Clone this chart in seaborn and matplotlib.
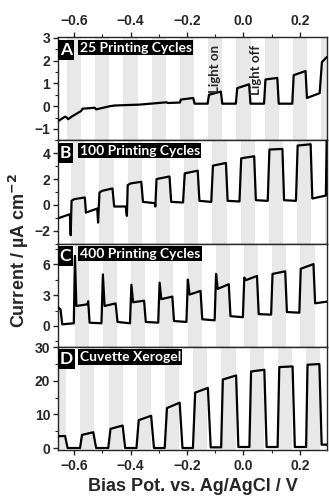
import matplotlib
matplotlib.use("Agg")
import matplotlib.pyplot as plt
from matplotlib.ticker import MultipleLocator
import seaborn as sns

# ---- data: potential (V) / current (uA cm-2) ----
pot_A = [-0.655, -0.632, -0.626, -0.621, -0.609, -0.575, -0.570, -0.527, -0.522, -0.473,
         -0.456, -0.367, -0.273, -0.268, -0.225, -0.222, -0.178, -0.173, -0.127, -0.122,
         -0.080, -0.075, -0.027, -0.022, 0.020, 0.025, 0.073, 0.078, 0.120, 0.125,
         0.173, 0.178, 0.220, 0.225, 0.270, 0.278, 0.295]
cur_A = [-0.64, -0.46, -0.50, -0.57, -0.46, -0.21, -0.11, -0.07, -0.14, 0.00,
         0.03, 0.07, 0.17, 0.14, 0.16, 0.29, 0.36, 0.11, 0.11, 0.50,
         0.64, 0.11, 0.11, 0.79, 0.96, 0.11, 0.11, 1.17, 1.24, 0.11,
         0.11, 1.36, 1.54, 0.36, 0.57, 1.93, 2.15]

pot_B = [-0.656, -0.615, -0.612, -0.609, -0.600, -0.562, -0.558, -0.518, -0.515, -0.510,
         -0.500, -0.464, -0.458, -0.417, -0.413, -0.410, -0.400, -0.362, -0.356, -0.314,
         -0.312, -0.308, -0.262, -0.256, -0.214, -0.208, -0.162, -0.156, -0.114, -0.108,
         -0.062, -0.056, -0.014, -0.008, 0.038, 0.044, 0.086, 0.092, 0.138, 0.144,
         0.186, 0.192, 0.238, 0.244, 0.292, 0.295]
cur_B = [-1.04, -0.73, -2.36, 0.31, 0.44, 0.57, -0.60, -0.29, -1.38, 0.96,
         1.09, 1.27, -0.13, -0.13, -0.86, 1.53, 1.66, 1.79, 0.23, 0.13,
         -0.13, 2.00, 2.20, 0.23, 0.18, 2.44, 2.65, 0.31, 0.23, 3.04,
         3.25, 0.31, 0.26, 3.61, 3.77, 0.36, 0.31, 4.29, 4.34, 0.36,
         0.31, 4.60, 4.70, 0.49, 0.72, 5.00]

pot_C = [-0.656, -0.648, -0.642, -0.601, -0.597, -0.592, -0.553, -0.550, -0.545, -0.503,
         -0.498, -0.492, -0.453, -0.446, -0.402, -0.397, -0.391, -0.352, -0.346, -0.302,
         -0.297, -0.291, -0.252, -0.246, -0.202, -0.197, -0.191, -0.152, -0.146, -0.102,
         -0.097, -0.091, -0.052, -0.046, -0.002, 0.003, 0.009, 0.048, 0.054, 0.098,
         0.103, 0.148, 0.154, 0.198, 0.203, 0.248, 0.254, 0.295]
cur_C = [1.80, 1.60, 0.16, 0.26, 6.80, 1.94, 2.10, 2.40, 0.32, 0.26,
         5.00, 1.94, 2.19, 0.39, 0.26, 4.00, 2.30, 2.45, 0.39, 0.32,
         4.20, 2.60, 2.85, 0.48, 0.39, 4.50, 3.05, 3.40, 0.65, 0.55,
         5.05, 3.60, 4.05, 0.95, 0.85, 4.70, 4.45, 4.85, 1.15, 1.10,
         5.05, 5.30, 1.35, 1.29, 5.55, 6.00, 2.20, 2.36]

pot_D = [-0.656, -0.632, -0.623, -0.579, -0.572, -0.532, -0.522, -0.479, -0.471, -0.428,
         -0.419, -0.379, -0.371, -0.327, -0.317, -0.279, -0.271, -0.226, -0.216, -0.179,
         -0.171, -0.126, -0.116, -0.079, -0.073, -0.026, -0.018, 0.021, 0.027, 0.074,
         0.082, 0.121, 0.127, 0.174, 0.182, 0.222, 0.227, 0.269, 0.277, 0.295]
cur_D = [3.5, 3.6, 0.0, 0.0, 3.9, 4.7, 0.0, 0.0, 5.7, 6.7,
         0.0, 0.0, 8.3, 9.6, 0.0, 0.0, 11.9, 13.5, 0.0, 0.0,
         16.5, 17.9, 0.2, 0.2, 20.4, 21.6, 0.3, 0.3, 22.8, 23.3,
         0.3, 0.3, 24.1, 24.3, 0.3, 0.3, 24.8, 25.0, 1.0, 1.0]

# light-on intervals (start potentials), each 0.05 V long
light_A = [-0.625, -0.525, -0.425, -0.325, -0.225, -0.125, -0.025, 0.075, 0.175, 0.275]
light_B = [-0.610, -0.510, -0.410, -0.310, -0.210, -0.110, -0.010, 0.090, 0.190, 0.290]
light_C = [-0.598, -0.498, -0.398, -0.298, -0.198, -0.098, 0.002, 0.102, 0.202]
light_D = [-0.678, -0.578, -0.478, -0.378, -0.278, -0.178, -0.078, 0.022, 0.122, 0.222]

titles = ["25 Printing Cycles", "100 Printing Cycles", "400 Printing Cycles", "Cuvette Xerogel"]
letters = ["A", "B", "C", "D"]
ylims = [(-1.5, 3.02), (-3, 5), (-2, 8), (-0.5, 30.2)]
ymajor = [1, 2, 3, 10]

sns.set_style("ticks")
plt.rcParams["font.family"] = ["Liberation Sans", "DejaVu Sans"]
plt.rcParams["font.weight"] = "bold"
plt.rcParams["axes.linewidth"] = 1.0

fig, axes = plt.subplots(4, 1, figsize=(3.29, 4.97), dpi=100, sharex=True)
fig.subplots_adjust(left=58 / 329, right=327 / 329, top=1 - 37.3 / 497,
                    bottom=1 - 449.7 / 497, hspace=0)

panels = [(pot_A, cur_A, light_A), (pot_B, cur_B, light_B),
          (pot_C, cur_C, light_C), (pot_D, cur_D, light_D)]
label_font = ["Lato", "DejaVu Sans"]

for i, ax in enumerate(axes):
    pot, cur, light = panels[i]
    for s in light:
        ax.axvspan(s, s + 0.05, color="#e8e8e8", lw=0, zorder=0)
    sns.lineplot(x=pot, y=cur, ax=ax, color="black", lw=1.6, sort=False,
                 estimator=None, zorder=3)
    ax.set_xlim(-0.657, 0.296)
    ax.set_ylim(*ylims[i])
    ax.yaxis.set_major_locator(MultipleLocator(ymajor[i]))
    ax.yaxis.set_minor_locator(MultipleLocator(ymajor[i] / 2))
    ax.tick_params(axis="y", which="major", length=3.5, width=1.0, labelsize=10, pad=2)
    ax.tick_params(axis="y", which="minor", length=2, width=0.8)
    for sp in ax.spines.values():
        sp.set_visible(True)
        sp.set_linewidth(1.0)
    ax.text(0.006, 0.955, letters[i], transform=ax.transAxes, ha="left", va="top",
            color="white", fontsize=12.5, family=label_font, fontweight="bold",
            bbox=dict(boxstyle="square,pad=0.12", fc="black", ec="none"), zorder=5)
    ax.text(0.08, 0.958, titles[i], transform=ax.transAxes, ha="left", va="top",
            color="white", fontsize=10, family=label_font, fontweight="bold",
            bbox=dict(boxstyle="square,pad=0.12", fc="black", ec="none"), zorder=5)
    ax.tick_params(axis="x", which="both", bottom=False, top=False,
                   labelbottom=False, labeltop=False)

axes[0].xaxis.set_major_locator(MultipleLocator(0.2))
axes[0].xaxis.set_minor_locator(MultipleLocator(0.1))
axes[0].tick_params(axis="x", which="both", top=True, labeltop=True)
axes[3].tick_params(axis="x", which="both", bottom=True, labelbottom=True)
for ax in (axes[0], axes[3]):
    ax.tick_params(axis="x", which="major", length=3.5, width=1.0, labelsize=10, pad=3)
    ax.tick_params(axis="x", which="minor", length=2, width=0.8)

axes[0].text(-0.1, 2.7, "Light on", rotation=90, ha="center", va="top", fontsize=9.5,
             family=label_font, fontweight="bold", zorder=4)
axes[0].text(0.046, 2.7, "Light off", rotation=90, ha="center", va="top", fontsize=9.5,
             family=label_font, fontweight="bold", zorder=4)

axes[3].set_xlabel("Bias Pot. vs. Ag/AgCl / V", fontsize=13, fontweight="bold", labelpad=4)
fig.text(0.058, 0.495, "Current / µA cm$^{\\mathbf{-2}}$", rotation=90, ha="center",
         va="center", fontsize=13, fontweight="bold")

fig.savefig("out.png", dpi=100)
